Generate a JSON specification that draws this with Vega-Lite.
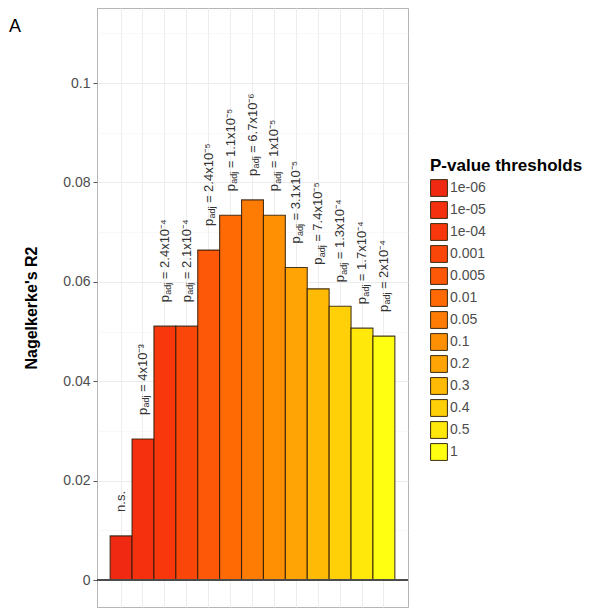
{
  "$schema": "https://vega.github.io/schema/vega-lite/v6.json",
  "width": 311,
  "height": 599,
  "autosize": {"type": "none"},
  "padding": {"left": 97, "top": 8, "right": 205, "bottom": 2},
  "background": "white",
  "title": {"text": "A", "anchor": "start", "frame": "group", "fontSize": 18, "fontWeight": "normal", "font": "Liberation Sans", "color": "#000000", "offset": 0, "dx": -88, "dy": 42, "baseline": "alphabetic"},
  "config": {
    "view": {"stroke": "#B5B5B5", "strokeWidth": 1},
    "font": "Liberation Sans"
  },
  "data": {
    "values": [
      {"threshold": "1e-06", "r2": 0.0089, "p": "n.s.", "sub": "", "rest": ""},
      {"threshold": "1e-05", "r2": 0.0284, "p": "p", "sub": "adj", "rest": "= 4x10⁻³"},
      {"threshold": "1e-04", "r2": 0.0511, "p": "p", "sub": "adj", "rest": "= 2.4x10⁻⁴"},
      {"threshold": "0.001", "r2": 0.0511, "p": "p", "sub": "adj", "rest": "= 2.1x10⁻⁴"},
      {"threshold": "0.005", "r2": 0.0664, "p": "p", "sub": "adj", "rest": "= 2.4x10⁻⁵"},
      {"threshold": "0.01", "r2": 0.0734, "p": "p", "sub": "adj", "rest": "= 1.1x10⁻⁵"},
      {"threshold": "0.05", "r2": 0.0765, "p": "p", "sub": "adj", "rest": "= 6.7x10⁻⁶"},
      {"threshold": "0.1", "r2": 0.0734, "p": "p", "sub": "adj", "rest": "= 1x10⁻⁵"},
      {"threshold": "0.2", "r2": 0.0629, "p": "p", "sub": "adj", "rest": "= 3.1x10⁻⁵"},
      {"threshold": "0.3", "r2": 0.0586, "p": "p", "sub": "adj", "rest": "= 7.4x10⁻⁵"},
      {"threshold": "0.4", "r2": 0.0551, "p": "p", "sub": "adj", "rest": "= 1.3x10⁻⁴"},
      {"threshold": "0.5", "r2": 0.0507, "p": "p", "sub": "adj", "rest": "= 1.7x10⁻⁴"},
      {"threshold": "1", "r2": 0.0491, "p": "p", "sub": "adj", "rest": "= 2x10⁻⁴"}
    ]
  },
  "encoding": {
    "x": {
      "field": "threshold", "type": "nominal", "sort": null,
      "scale": {"paddingInner": 0, "paddingOuter": 0.6},
      "axis": {"labels": false, "ticks": false, "domain": false, "title": null, "grid": true, "gridColor": "#EDEDED", "gridWidth": 1, "bandPosition": 0.5}
    },
    "y": {
      "field": "r2", "type": "quantitative",
      "scale": {"domain": [-0.0054, 0.1151], "nice": false, "zero": false},
      "axis": {
        "title": "Nagelkerke's R2",
        "titleFontSize": 16, "titleFontWeight": "bold", "titleColor": "#000000", "titlePadding": 23,
        "values": [0, 0.01, 0.02, 0.03, 0.04, 0.05, 0.06, 0.07, 0.08, 0.09, 0.1, 0.11],
        "labelExpr": "round(datum.value*100) % 2 == 0 ? format(datum.value, '~g') : ''",
        "labelFontSize": 14, "labelColor": "#4D4D4D", "labelPadding": 3,
        "tickSize": 4, "tickColor": "#555555",
        "tickOpacity": {"condition": {"test": "round(datum.value*100) % 2 == 1", "value": 0}, "value": 1},
        "domain": false,
        "grid": true,
        "gridColor": {"condition": {"test": "round(datum.value*100) % 2 == 1", "value": "#F4F4F4"}, "value": "#EBEBEB"},
        "gridWidth": {"condition": {"test": "round(datum.value*100) % 2 == 1", "value": 0.6}, "value": 1}
      }
    }
  },
  "layer": [
    {
      "mark": {"type": "bar", "stroke": "#2A1A08", "strokeWidth": 1.1, "strokeOpacity": 0.85},
      "encoding": {
        "fill": {
          "field": "threshold", "type": "nominal",
          "scale": {
            "domain": ["1e-06", "1e-05", "1e-04", "0.001", "0.005", "0.01", "0.05", "0.1", "0.2", "0.3", "0.4", "0.5", "1"],
            "range": ["#F02A12", "#F4300F", "#F8380C", "#FB4609", "#FD5807", "#FF6A05", "#FF7C04", "#FF9003", "#FFA404", "#FFBA06", "#FFD007", "#FFE80A", "#FFFF12"]
          },
          "legend": {
            "title": "P-value thresholds",
            "orient": "none", "legendX": 333, "legendY": 150,
            "titleFontSize": 17, "titleFontWeight": "bold", "titleColor": "#000000", "titlePadding": 4,
            "labelFontSize": 14, "labelColor": "#4D4D4D", "labelOffset": 2,
            "symbolType": "square", "symbolSize": 282, "symbolStrokeColor": "#3A2A10", "symbolStrokeWidth": 1,
            "rowPadding": 0, "padding": 0
          }
        }
      }
    },
    {
      "mark": {"type": "rule", "color": "#4D4D4D", "strokeWidth": 1.2},
      "encoding": {"y": {"datum": 0}, "x": {}}
    },
    {
      "mark": {"type": "text", "angle": 270, "align": "left", "baseline": "middle", "dx": 24, "fontSize": 13, "color": "#333333"},
      "encoding": {"text": {"field": "p"}}
    },
    {
      "transform": [{"filter": "datum.sub != ''"}],
      "mark": {"type": "text", "angle": 270, "align": "left", "baseline": "middle", "dx": 31.5, "dy": 3.5, "fontSize": 9, "color": "#333333"},
      "encoding": {"text": {"field": "sub"}}
    },
    {
      "transform": [{"filter": "datum.sub != ''"}],
      "mark": {"type": "text", "angle": 270, "align": "left", "baseline": "middle", "dx": 47, "fontSize": 13, "color": "#333333"},
      "encoding": {"text": {"field": "rest"}}
    }
  ]
}
